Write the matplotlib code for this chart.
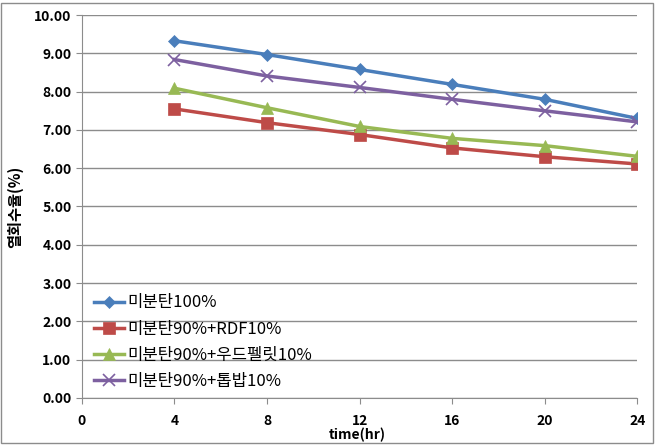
import matplotlib.pyplot as plt
import numpy as np

plt.rcParams['font.family'] = ['Noto Sans CJK KR', 'DejaVu Sans']

hours = [4, 8, 12, 16, 20, 24]
labels = ['미분탄100%', '미분탄90%+RDF10%', '미분탄90%+우드펠릿10%', '미분탄90%+톱밥10%']
coal100 = [9.33, 8.97, 8.58, 8.19, 7.80, 7.30]
coal_rdf = [7.55, 7.19, 6.88, 6.53, 6.30, 6.11]
coal_wood = [8.09, 7.58, 7.09, 6.78, 6.59, 6.31]
coal_saw = [8.84, 8.41, 8.11, 7.80, 7.50, 7.21]

series = [coal100, coal_rdf, coal_wood, coal_saw]
colors = ['#4A7EBB', '#BE4B48', '#98B954', '#7D60A0']
markers = ['D', 's', '^', 'x']
msizes = [6, 8, 8, 8]

fig = plt.figure(figsize=(6.55, 4.45), dpi=100)
ax = fig.add_axes([0.125, 0.106, 0.848, 0.86])

for vals, c, m, ms, lab in zip(series, colors, markers, msizes, labels):
    ax.plot(hours, vals, color=c, marker=m, markersize=ms, linewidth=2.5,
            markeredgewidth=1.2 if m == 'x' else 0.5, label=lab)

ax.set_xlim(0, 24)
ax.set_ylim(0, 10)
ax.set_xticks(np.arange(0, 25, 4))
ax.set_yticks(np.arange(0, 10.1, 1))
ax.set_yticklabels(['%.2f' % v for v in np.arange(0, 10.1, 1)])
ax.yaxis.grid(True, color='#8c8c8c', linewidth=1)
ax.set_axisbelow(True)
for s in ['top', 'right']:
    ax.spines[s].set_visible(False)
for s in ['left', 'bottom']:
    ax.spines[s].set_color('#8c8c8c')
ax.tick_params(axis='both', colors='#8c8c8c', length=4, labelcolor='black', labelsize=10)
ax.tick_params(axis='x', direction='out', pad=8)
for t in ax.get_xticklabels() + ax.get_yticklabels():
    t.set_fontweight('bold')

ax.set_ylabel('열회수율(%)', fontsize=11, fontweight='bold', labelpad=8)
fig.text(0.545, 0.022, 'time(hr)', fontsize=10, fontweight='bold', ha='center', va='center')

ax.legend(loc='lower left', bbox_to_anchor=(0.0, -0.01), frameon=False, fontsize=12,
          handlelength=1.8, handletextpad=0.2, labelspacing=0.55, borderaxespad=0.3)

fig.patches.append(plt.Rectangle((0.002, 0.004), 0.995, 0.99, transform=fig.transFigure,
                                 fill=False, edgecolor='#8c8c8c', linewidth=1))

fig.savefig('out.png', dpi=100)
